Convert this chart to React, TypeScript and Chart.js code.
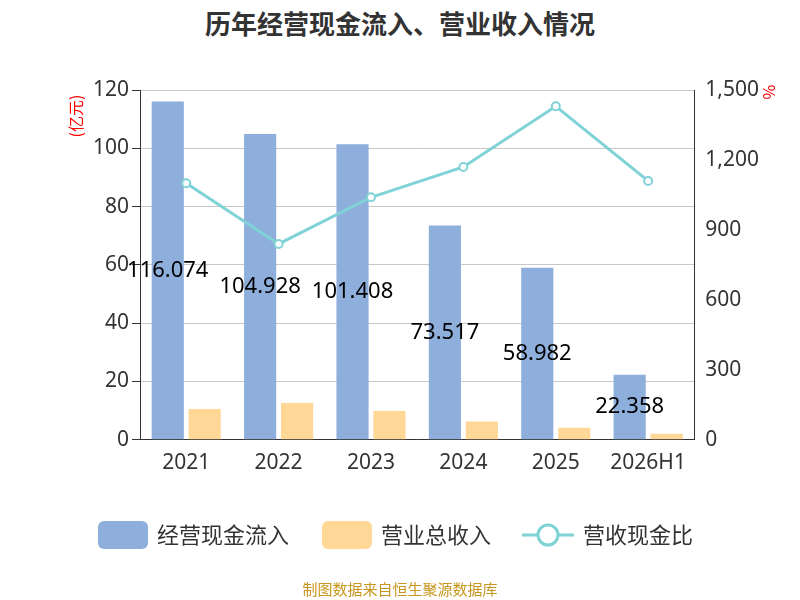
import React, { useEffect, useRef } from "react";
import { Chart, registerables } from "chart.js";
Chart.register(...registerables);

const categories = ["2021", "2022", "2023", "2024", "2025", "2026H1"];
const cashInflow = [116.074, 104.928, 101.408, 73.517, 58.982, 22.358];
const revenue = [10.6, 12.6, 9.9, 6.3, 4.1, 2.1];
const ratio = [1100, 840, 1040, 1170, 1430, 1110];

const C1 = "#8eaedb", C2 = "#ffd796", C3 = "#7fd3d6";

const overlay = {
  id: "overlay",
  afterDraw(chart: any) {
    const ctx = chart.ctx;
    ctx.save();
    const m0 = chart.getDatasetMeta(0);
    ctx.fillStyle = "#000";
    ctx.font = "22px 'Noto Sans', sans-serif";
    ctx.textAlign = "center";
    ctx.textBaseline = "middle";
    m0.data.forEach((b: any, i: number) => {
      ctx.fillText(cashInflow[i].toFixed(3), b.x, (b.y + b.base) / 2);
    });
    ctx.fillStyle = "red";
    ctx.font = "16px 'Noto Sans CJK SC', sans-serif";
    ctx.translate(76, 116); ctx.rotate(-Math.PI / 2); ctx.fillText("(亿元)", 0, 0);
    ctx.setTransform(1, 0, 0, 1, 0, 0);
    ctx.scale(chart.currentDevicePixelRatio, chart.currentDevicePixelRatio);
    ctx.translate(769, 92); ctx.rotate(Math.PI / 2); ctx.fillText("%", 0, 0);
    ctx.restore();
    // legend
    ctx.save();
    ctx.font = "22px 'Noto Sans CJK SC', sans-serif";
    ctx.textBaseline = "middle";
    ctx.fillStyle = "#333";
    const y = 535;
    const rr = (x: number, col: string) => {
      ctx.fillStyle = col; ctx.beginPath(); ctx.roundRect(x, y - 14, 50, 28, 6); ctx.fill();
    };
    rr(98, C1); ctx.fillStyle = "#333"; ctx.fillText("经营现金流入", 157, y);
    rr(322, C2); ctx.fillStyle = "#333"; ctx.fillText("营业总收入", 381, y);
    ctx.strokeStyle = C3; ctx.lineWidth = 3;
    ctx.beginPath(); ctx.moveTo(522, y); ctx.lineTo(574, y); ctx.stroke();
    ctx.fillStyle = "#fff"; ctx.beginPath(); ctx.arc(548, y, 10, 0, Math.PI * 2); ctx.fill(); ctx.stroke();
    ctx.fillStyle = "#333"; ctx.fillText("营收现金比", 583, y);
    ctx.restore();
  },
};

export default function App() {
  const ref = useRef<HTMLCanvasElement>(null);
  useEffect(() => {
    const font = { size: 21, family: "'Noto Sans', sans-serif" };
    const chart = new Chart(ref.current!, {
      type: "bar",
      data: {
        labels: categories,
        datasets: [
          { label: "经营现金流入", data: cashInflow, backgroundColor: C1, yAxisID: "y", categoryPercentage: 0.8, barPercentage: 0.87, order: 2 },
          { label: "营业总收入", data: revenue, backgroundColor: C2, yAxisID: "y", categoryPercentage: 0.8, barPercentage: 0.87, order: 2 },
          { type: "line", label: "营收现金比", data: ratio, borderColor: C3, borderWidth: 3, pointRadius: 4, pointBackgroundColor: "#fff", pointBorderColor: C3, pointBorderWidth: 2, yAxisID: "y1", order: 1 } as any,
        ],
      },
      options: {
        animation: false,
        responsive: false,
        layout: { padding: { top: 90, bottom: 121, left: 90, right: 38 } },
        plugins: {
          legend: { display: false },
          tooltip: { enabled: false },
          title: { display: false },
        },
        scales: {
          x: {
            grid: { display: false, drawTicks: true, tickLength: 8, tickColor: "#333" } as any,
            border: { color: "#333" },
            ticks: { color: "#333", font },
          },
          y: {
            min: 0, max: 120,
            ticks: { stepSize: 20, color: "#333", font },
            grid: { color: "#c8c8c8", tickLength: 8, tickColor: "#333" } as any,
            border: { color: "#333" },
          },
          y1: {
            position: "right", min: 0, max: 1500,
            ticks: { stepSize: 300, color: "#333", font },
            grid: { display: false, tickLength: 8, tickColor: "#333" } as any,
            border: { color: "#333" },
          },
        },
      },
      plugins: [overlay],
    });
    return () => chart.destroy();
  }, []);
  return (
    <div style={{ position: "fixed", left: 0, top: 0, width: 800, height: 600, background: "#fff" }}>
      <div style={{ position: "absolute", top: 4, width: 800, textAlign: "center", fontFamily: "'Noto Sans CJK SC', sans-serif", fontWeight: "bold", fontSize: 26, color: "#333" }}>历年经营现金流入、营业收入情况</div>
      <canvas ref={ref} width={800} height={600} style={{ position: "absolute", left: 0, top: 0 }} />
      <div style={{ position: "absolute", top: 578, width: 800, textAlign: "center", fontFamily: "'Noto Sans CJK SC', sans-serif", fontSize: 15, color: "#c8961e" }}>制图数据来自恒生聚源数据库</div>
    </div>
  );
}
